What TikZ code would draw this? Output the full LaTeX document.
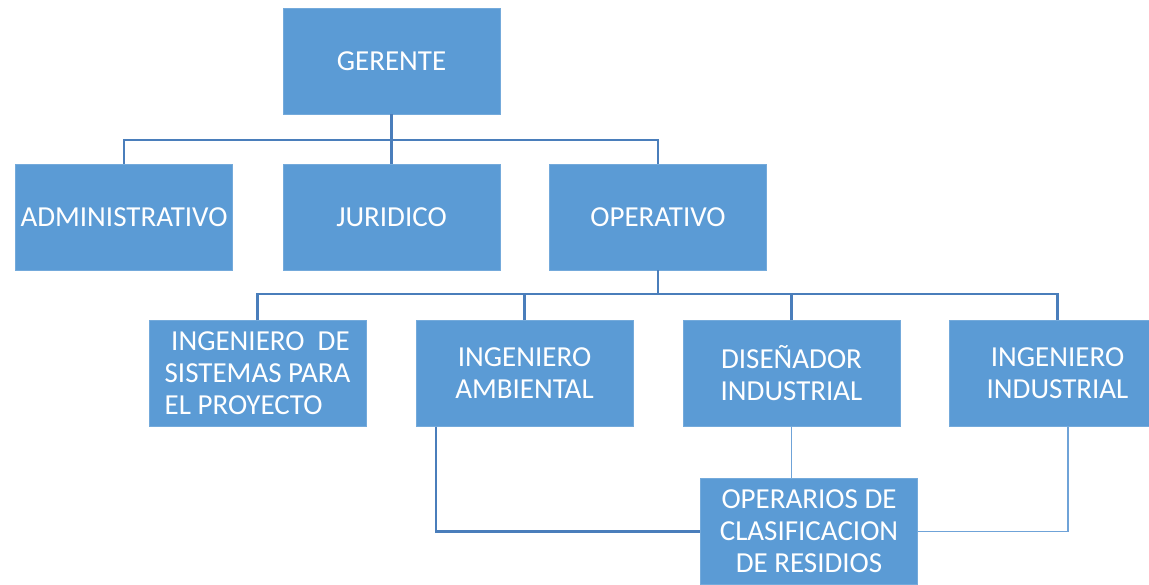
\documentclass[tikz,border=0pt]{standalone}
\usepackage{fontspec}
\setmainfont{Carlito}
\definecolor{cajaazul}{HTML}{5B9BD5}
\definecolor{lineaazul}{HTML}{4A7EBB}
\definecolor{lineaclara}{HTML}{6FA3D8}

\tikzset{
  caja/.style={fill=cajaazul, draw=cajaazul!85!white, minimum width=217pt, minimum height=106pt,
    inner sep=0pt, text=white, font=\fontsize{29}{32}\selectfont, align=center},
  linea/.style={draw=lineaazul, line width=2.2pt},
  lineafina/.style={draw=lineaclara, line width=1.2pt}
}

\begin{document}
\begin{tikzpicture}[x=1pt, y=-1pt]
	\useasboundingbox (0,0) rectangle (1149,584);

	\node[caja] (gerente) at (391.5, 61) {GERENTE};
	\node[caja] (admin) at (124, 217) {ADMINISTRATIVO};
	\node[caja] (juridico) at (391.5, 217) {JURIDICO};
	\node[caja] (operativo) at (658, 217) {OPERATIVO};

	\node[caja, align=left] (sistemas) at (257.5, 373.5) {\ INGENIERO\ \ DE\\SISTEMAS PARA\\EL PROYECTO};
	\node[caja] (ambiental) at (524.5, 373.5) {INGENIERO\\AMBIENTAL};
	\node[caja] (disenador) at (791.5, 373.5) {DISEÑADOR\\INDUSTRIAL};
	\node[caja] (industrial) at (1057.5, 373.5) {INGENIERO\\INDUSTRIAL};

	\node[caja] (operarios) at (809, 531.5) {OPERARIOS DE\\CLASIFICACION\\DE RESIDIOS};

	% gerente con su primer nivel
	\draw[linea] (admin.north) |- ++(0,-24) -| (operativo.north);
	\draw[linea] (gerente.south) -- (juridico.north);

	% operativo con los ingenieros
	\draw[linea] (sistemas.north) |- ++(0,-26) -| (industrial.north);
	\draw[linea] (operativo.south) -- ++(0,24);
	\draw[linea] (ambiental.north) -- ++(0,-26);
	\draw[linea] (disenador.north) -- ++(0,-26);

	% operarios
	\draw[linea] ([xshift=-88.5pt]ambiental.south) |- (operarios.west);
	\draw[lineafina] (disenador.south) -- (disenador.south |- operarios.north);
	\draw[lineafina] ([xshift=10.5pt]industrial.south) |- (operarios.east);

\end{tikzpicture}
\end{document}
